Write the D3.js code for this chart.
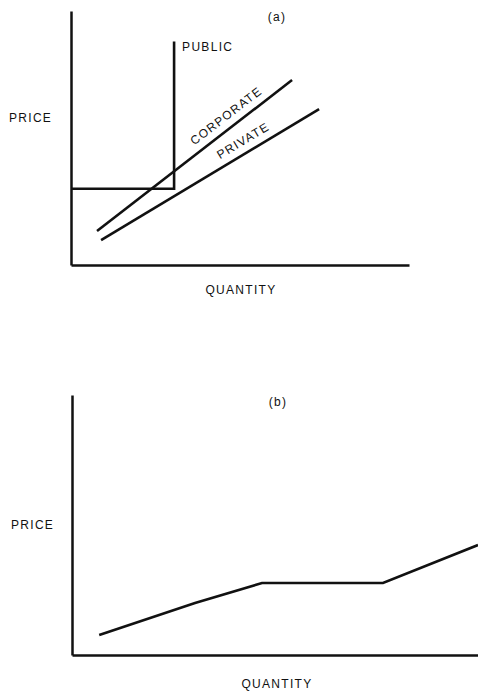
<!DOCTYPE html>
<html>
<head>
<meta charset="utf-8">
<script src="https://cdn.jsdelivr.net/npm/d3@7"></script>
<style>
    body { margin: 0; background: #fff; }
    text { font-family: "Liberation Sans", Arial, sans-serif; font-size: 12px; fill: #111; letter-spacing: 1.3px; }
</style>
</head>
<body>
<div id="chart"></div>
<script>
// panel (a): supply curves, quantity / price on a 0-100 scale
const publicCurve = [[0, 30], [30.5, 30], [30.5, 88]];
const corporateCurve = [[7.7, 13.4], [65.4, 72.8]];
const privateCurve = [[8.9, 9.8], [73.4, 61.4]];

// panel (b): combined curve
const combinedCurve = [[6.7, 7.7], [30.3, 20], [46.8, 27.7], [76.6, 27.7], [100, 42.3]];

const width = 478, height = 693;

const svg = d3.select("#chart")
    .append("svg")
    .attr("width", width)
    .attr("height", height);

function drawPanel(opts) {
    const x = d3.scaleLinear().domain([0, 100]).range(opts.xRange);
    const y = d3.scaleLinear().domain([0, 100]).range(opts.yRange);

    const g = svg.append("g");

    // axes without ticks
    g.append("g")
        .attr("transform", "translate(" + opts.xRange[0] + ",0)")
        .call(d3.axisLeft(y).ticks(0).tickSizeOuter(0))
        .select(".domain")
        .attr("stroke", "#111")
        .attr("stroke-width", 2.5);
    g.append("g")
        .attr("transform", "translate(0," + opts.yRange[0] + ")")
        .call(d3.axisBottom(x).ticks(0).tickSizeOuter(0))
        .select(".domain")
        .attr("stroke", "#111")
        .attr("stroke-width", 2.5);

    const line = d3.line().x(d => x(d[0])).y(d => y(d[1]));

    opts.curves.forEach(c => {
        g.append("path")
            .datum(c)
            .attr("d", line)
            .attr("fill", "none")
            .attr("stroke", "#111")
            .attr("stroke-width", 2.6)
            .attr("stroke-linejoin", "miter");
    });

    g.append("text").attr("x", opts.titlePos[0]).attr("y", opts.titlePos[1])
        .attr("text-anchor", "middle").text(opts.title);
    g.append("text").attr("x", opts.pricePos[0]).attr("y", opts.pricePos[1]).text("PRICE");
    g.append("text").attr("x", opts.qtyPos[0]).attr("y", opts.qtyPos[1])
        .attr("text-anchor", "middle").text("QUANTITY");

    return { g, x, y };
}

const a = drawPanel({
    xRange: [71, 409],
    yRange: [265, 11],
    curves: [publicCurve, corporateCurve, privateCurve],
    title: "(a)",
    titlePos: [277, 21],
    pricePos: [9, 122],
    qtyPos: [241, 294]
});

// curve labels
a.g.append("text")
    .attr("x", a.x(publicCurve[1][0]) + 8)
    .attr("y", a.y(publicCurve[2][1]) + 10)
    .text("PUBLIC");

function slopeLabel(curve, t, offset, label) {
    const p0 = [a.x(curve[0][0]), a.y(curve[0][1])];
    const p1 = [a.x(curve[1][0]), a.y(curve[1][1])];
    const ang = Math.atan2(p1[1] - p0[1], p1[0] - p0[0]) * 180 / Math.PI;
    const cx = p0[0] + (p1[0] - p0[0]) * t;
    const cy = p0[1] + (p1[1] - p0[1]) * t;
    a.g.append("text")
        .attr("transform", "translate(" + cx + "," + cy + ") rotate(" + ang + ") translate(0," + (-offset) + ")")
        .attr("text-anchor", "middle")
        .text(label);
}
slopeLabel(corporateCurve, 0.7, 8, "CORPORATE");
slopeLabel(privateCurve, 0.68, 8, "PRIVATE");

drawPanel({
    xRange: [72, 478],
    yRange: [655, 395],
    curves: [combinedCurve],
    title: "(b)",
    titlePos: [278, 406],
    pricePos: [11, 529],
    qtyPos: [277, 688]
});
</script>
</body>
</html>
